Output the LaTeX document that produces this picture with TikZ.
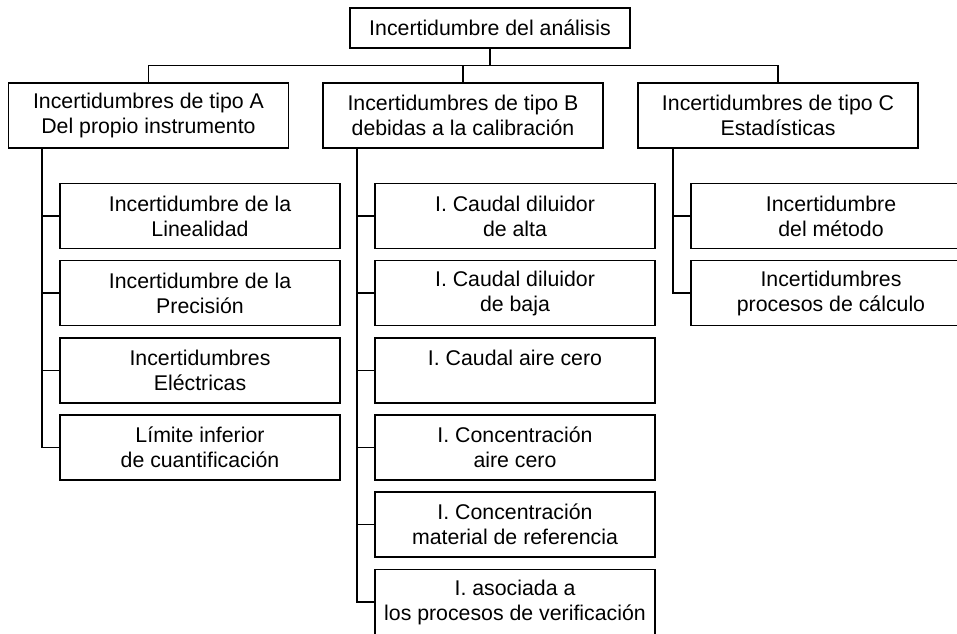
\documentclass[tikz,border=0pt]{standalone}
\usepackage{fontspec}
\setmainfont{Liberation Sans}
\usepackage{tikz}
\usetikzlibrary{positioning}

\begin{document}
\begin{tikzpicture}[x=1pt, y=-1pt,
    box/.style={draw, line width=1.6pt, rectangle, inner sep=0pt, align=center,
        minimum width=280pt, minimum height=65pt,
        font=\fontsize{21.3}{25}\selectfont},
    link/.style={draw, line width=1.6pt}]

    \useasboundingbox (0,0) rectangle (957,633);
    \clip (0,0) rectangle (957,633);

    % root and the three types
    \node[box, minimum height=40pt] (root) at (490,28) {Incertidumbre del an\'alisis};
    \node[box] (tipoA) at (148.5,115.5) {Incertidumbres de tipo A\\Del propio instrumento};
    \node[box] (tipoB) at (463,115.5) {Incertidumbres de tipo B\\debidas a la calibraci\'on};
    \node[box] (tipoC) at (778,115.5) {Incertidumbres de tipo C\\Estad\'isticas};

    \coordinate (bus) at (0,65.5);
    \path[link] (tipoA.north) |- (bus -| tipoC.north) -- (tipoC.north);
    \path[link] (root.south) -- (root.south |- bus);
    \path[link] (tipoB.north) -- (tipoB.north |- bus);

    % type A
    \node[box] (a1) at (200,216) {Incertidumbre de la\\Linealidad};
    \node[box] (a2) at (200,293) {Incertidumbre de la\\Precisi\'on};
    \node[box] (a3) at (200,370.5) {Incertidumbres\\El\'ectricas};
    \node[box] (a4) at (200,447.5) {L\'imite inferior\\de cuantificaci\'on};

    % type B
    \node[box] (b1) at (515,216) {I. Caudal diluidor\\de alta};
    \node[box] (b2) at (515,293) {I. Caudal diluidor\\de baja};
    \node[box] (b3) at (515,370.5) {I. Caudal aire cero\\\mbox{}};
    \node[box] (b4) at (515,447.5) {I. Concentraci\'on\\aire cero};
    \node[box] (b5) at (515,524.5) {I. Concentraci\'on\\material de referencia};
    \node[box] (b6) at (515,602) {I. asociada a\\los procesos de verificaci\'on};

    % type C
    \node[box] (c1) at (831,216) {Incertidumbre\\del m\'etodo};
    \node[box] (c2) at (831,293) {Incertidumbres\\procesos de c\'alculo};

    % trunks
    \coordinate (ta) at ([xshift=-17pt]a1.west);
    \coordinate (tb) at ([xshift=-17pt]b1.west);
    \coordinate (tc) at ([xshift=-17pt]c1.west);
    \path[link] (ta |- tipoA.south) |- (a4.west);
    \path[link] (tb |- tipoB.south) |- (b6.west);
    \path[link] (tc |- tipoC.south) |- (c2.west);
    \foreach \i in {1,2,3} {
        \path[link] (ta |- a\i.west) -- (a\i.west);
    }
    \foreach \i in {1,...,5} {
        \path[link] (tb |- b\i.west) -- (b\i.west);
    }
    \path[link] (tc |- c1.west) -- (c1.west);

\end{tikzpicture}
\end{document}
